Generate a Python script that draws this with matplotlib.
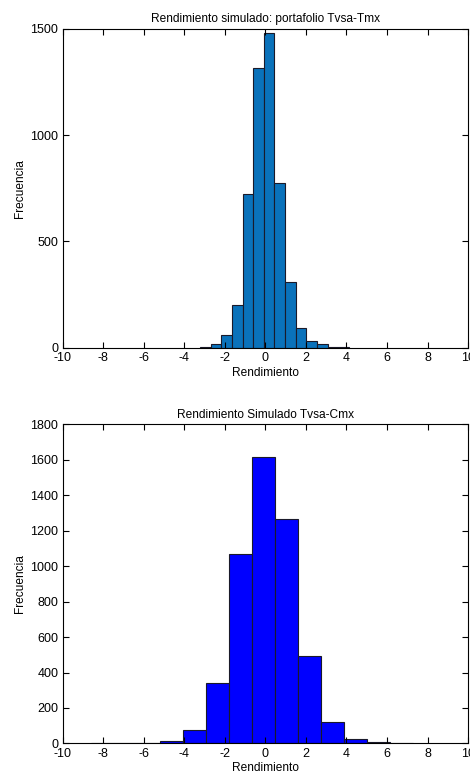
import matplotlib
matplotlib.use("Agg")
import matplotlib.pyplot as plt

plt.rcParams['font.family'] = ['Liberation Sans', 'DejaVu Sans']
plt.rcParams['axes.unicode_minus'] = False

# Portafolio Tvsa-Tmx: bordes de clase y frecuencias
tmx_edges = [-3.23, -2.70, -2.18, -1.65, -1.12, -0.60, -0.07, 0.45,
             0.98, 1.50, 2.03, 2.56, 3.08, 3.61, 4.13]
tmx_counts = [4, 18, 60, 200, 722, 1313, 1478, 773, 310, 92, 33, 15, 5, 2]

# Portafolio Tvsa-Cmx
cmx_edges = [-8.60, -7.47, -6.33, -5.20, -4.07, -2.93, -1.80, -0.66,
             0.47, 1.61, 2.74, 3.87, 5.01, 6.14, 7.28]
cmx_counts = [3, 0, 4, 15, 75, 342, 1068, 1617, 1267, 496, 122, 26, 10, 4]

titles = ['Rendimiento simulado: portafolio Tvsa-Tmx',
          'Rendimiento Simulado Tvsa-Cmx']
xticks = [-10, -8, -6, -4, -2, 0, 2, 4, 6, 8, 10]


def histograma(ax, edges, counts, color, ymax, yticks, title):
    centers = [(a + b) / 2 for a, b in zip(edges[:-1], edges[1:])]
    ax.hist(centers, bins=edges, weights=counts, color=color,
            edgecolor='#1a1a2a', linewidth=0.8)
    ax.set_xlim(-10, 10)
    ax.set_ylim(0, ymax)
    ax.set_xticks(xticks)
    ax.set_yticks(yticks)
    ax.tick_params(direction='in', top=True, right=True, length=4,
                   width=0.8, labelsize=9)
    ax.tick_params(axis='x', pad=3)
    ax.tick_params(axis='y', pad=3)
    for s in ax.spines.values():
        s.set_linewidth(0.8)
    ax.set_title(title, fontsize=8.6, pad=5)
    ax.set_xlabel('Rendimiento', fontsize=8.6, labelpad=2)
    ax.set_ylabel('Frecuencia', fontsize=8.6, labelpad=3)


fig = plt.figure(figsize=(4.70, 7.76), dpi=100)
ax1 = fig.add_axes([0.133, 0.552, 0.863, 0.411])
ax2 = fig.add_axes([0.133, 0.042, 0.863, 0.411])

histograma(ax1, tmx_edges, tmx_counts, '#0a72bb', 1500,
           [0, 500, 1000, 1500], titles[0])
histograma(ax2, cmx_edges, cmx_counts, '#0000ff', 1800,
           list(range(0, 1801, 200)), titles[1])

fig.savefig('out.png', dpi=100)
